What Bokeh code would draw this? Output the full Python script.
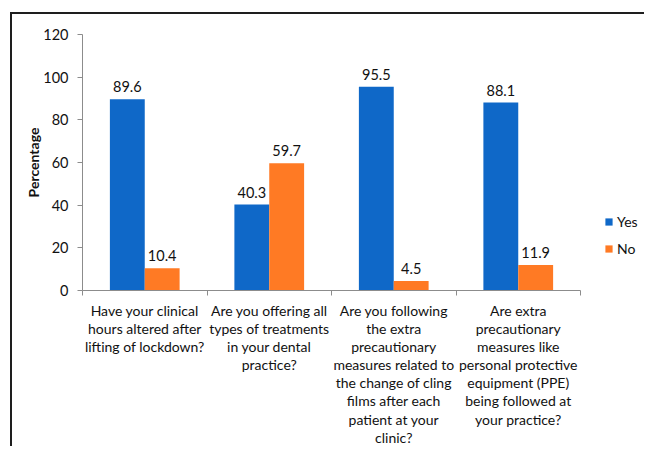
from bokeh.plotting import figure
from bokeh.models import (ColumnDataSource, Range1d, LinearAxis, FixedTicker,
                          Legend, LegendItem, LabelSet)
from bokeh.core.properties import value
from bokeh.transform import dodge
from bokeh.embed import file_html
from bokeh.resources import INLINE

# ---- data ----
questions = [
    "Have your clinical\nhours altered after\nlifting of lockdown?",
    "Are you offering all\ntypes of treatments\nin your dental\npractice?",
    "Are you following\nthe extra\nprecautionary\nmeasures related to\nthe change of cling\nfilms after each\npatient at your\nclinic?",
    "Are extra\nprecautionary\nmeasures like\npersonal protective\nequipment (PPE)\nbeing followed at\nyour practice?",
]
yes_pct = [89.6, 40.3, 95.5, 88.1]
no_pct = [10.4, 59.7, 4.5, 11.9]
series = ["Yes", "No"]
y_ticks = [0, 20, 40, 60, 80, 100, 120]

FONT = "Lato"
BLUE = "#0f68c8"
ORANGE = "#ff7a24"
n = len(questions)

# layout (pixels): plot frame spans to the right edge so the legend sits inside it,
# while the four question slots occupy the left AXIS_PX of the frame
W, H = 634, 434
LEFT, TOP, BOTTOM = 70, 20, 156
FRAME_PX = W - LEFT
AXIS_PX = 498
x_end = n * FRAME_PX / AXIS_PX

slot = [i + 0.5 for i in range(n)]  # centre of each question slot
src = ColumnDataSource(dict(
    slot=slot, yes=yes_pct, no=no_pct,
    yes_txt=[f"{v:.1f}" for v in yes_pct],
    no_txt=[f"{v:.1f}" for v in no_pct],
))

p = figure(x_range=Range1d(0, x_end), y_range=Range1d(y_ticks[0], y_ticks[-1]),
           width=W, height=H, output_backend="svg", toolbar_location=None,
           x_axis_location=None,
           min_border_left=LEFT, min_border_right=0, min_border_top=TOP,
           min_border_bottom=BOTTOM)
p.outline_line_color = None
p.grid.visible = False
p.background_fill_color = "white"
p.border_fill_color = "white"
p.margin = (12, 0, 0, 10)
p.styles = {"border-top": "2px solid #1e1e1e", "border-left": "2px solid #1e1e1e"}

# x axis: labels at slot centres, separators as minor ticks
xaxis = LinearAxis(ticker=FixedTicker(ticks=slot, minor_ticks=list(range(n + 1))),
                   major_label_overrides={s: q for s, q in zip(slot, questions)},
                   bounds=(0, n))
xaxis.axis_line_color = "#8c8c8c"
xaxis.major_tick_in = 0
xaxis.major_tick_out = 0
xaxis.minor_tick_in = 0
xaxis.minor_tick_out = 5
xaxis.minor_tick_line_color = "#8c8c8c"
xaxis.major_label_text_font = FONT
xaxis.major_label_text_font_size = "14px"
xaxis.major_label_text_color = "#111111"
xaxis.major_label_standoff = 6
xaxis.major_label_text_line_height = 1.07
p.add_layout(xaxis, "below")

# y axis
yax = p.yaxis[0]
yax.ticker = FixedTicker(ticks=y_ticks)
yax.axis_line_color = "#8c8c8c"
yax.major_tick_line_color = "#8c8c8c"
yax.major_tick_in = 0
yax.major_tick_out = 5
yax.minor_tick_line_color = None
yax.major_label_text_font = FONT
yax.major_label_text_font_size = "14.5px"
yax.major_label_text_color = "#111111"
yax.major_label_standoff = 9
yax.axis_label = "Percentage"
yax.axis_label_text_font = FONT
yax.axis_label_text_font_size = "14px"
yax.axis_label_text_font_style = "bold"
yax.axis_label_text_color = "#111111"
yax.axis_label_standoff = -2

# bars
r_yes = p.vbar(x=dodge("slot", -0.14), top="yes", width=0.28, source=src,
               fill_color=BLUE, line_color=None)
r_no = p.vbar(x=dodge("slot", 0.14), top="no", width=0.28, source=src,
              fill_color=ORANGE, line_color=None)

for col, txt, off in (("yes", "yes_txt", -0.14), ("no", "no_txt", 0.14)):
    p.add_layout(LabelSet(x=dodge("slot", off), y=col, text=txt, source=src,
                          text_align="center", text_baseline="bottom", y_offset=7,
                          text_font=value(FONT), text_font_size=value("14.5px"),
                          text_color="#111111"))

legend = Legend(items=[LegendItem(label=series[0], renderers=[r_yes]),
                       LegendItem(label=series[1], renderers=[r_no])],
                location=(522, 32), orientation="vertical",
                glyph_width=9, glyph_height=9, label_standoff=4, spacing=7,
                padding=0, margin=0, border_line_color=None, background_fill_alpha=0,
                label_text_font=FONT, label_text_font_size="14px", label_height=20,
                label_text_color="#111111")
p.add_layout(legend)

open("out.html", "w").write(file_html(p, INLINE))
